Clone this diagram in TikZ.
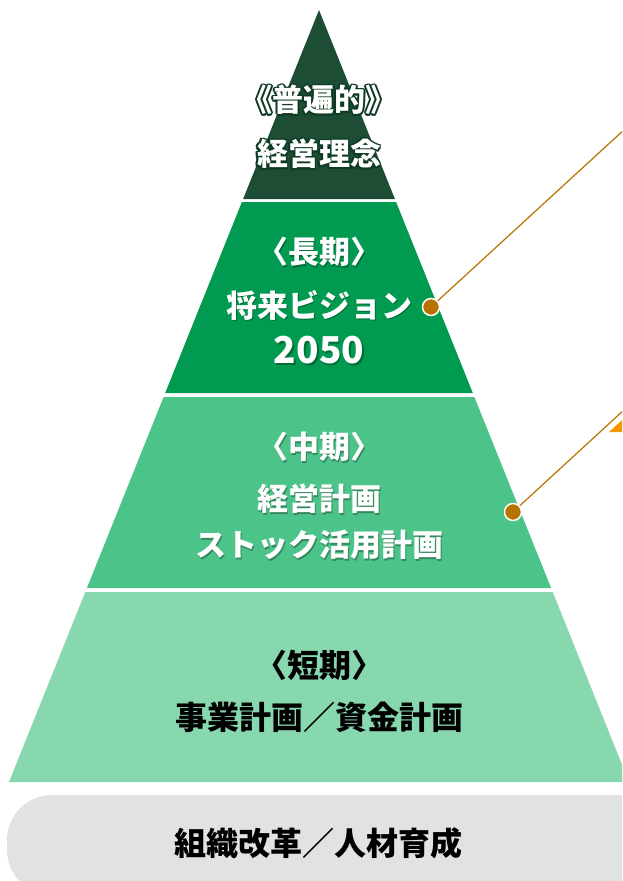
\documentclass[tikz,border=0pt]{standalone}
\usepackage{fontspec}
\setmainfont{Noto Sans CJK JP}
\usetikzlibrary{calc}
\definecolor{lvA}{HTML}{1D4E35}
\definecolor{lvB}{HTML}{009B50}
\definecolor{lvC}{HTML}{4CC489}
\definecolor{lvD}{HTML}{87D8AE}
\definecolor{barG}{HTML}{E1E3E3}
\definecolor{lineC}{HTML}{B87200}
\definecolor{triC}{HTML}{F39800}
\definecolor{glowC}{HTML}{0E3A24}
\tikzset{
  lbl/.style={inner sep=0pt, anchor=center, font=\fontsize{31}{36}\selectfont\bfseries},
  wlbl/.style={lbl, text=white},
  blbl/.style={inner sep=0pt, anchor=center, text=black, font=\fontsize{32}{37}\selectfont\bfseries},
  shd/.style={lbl, text=black, opacity=0.3},
  glw/.style={lbl, text=glowC},
  conn/.style={draw=lineC, line width=1.2pt},
  dotc/.style={circle, fill=lineC, draw=white, line width=1.5pt, minimum size=17pt, inner sep=0pt}
}
\newcommand{\shadtext}[3]{%
  \node[shd] at ($(#2)+(1.6,1.6)$) {#3};
  \node[wlbl] (#1) at (#2) {#3};}
\newcommand{\glowtext}[3]{%
  \foreach \dx/\dy in {1.8/0,-1.8/0,0/1.8,0/-1.8,1.3/1.3,-1.3/1.3,1.3/-1.3,-1.3/-1.3}{%
    \node[glw] at ($(#2)+(\dx,\dy)$) {#3};}
  \node[wlbl] (#1) at (#2) {#3};}
\begin{document}
\begin{tikzpicture}[x=1pt,y=-1pt]
\useasboundingbox (0,0) rectangle (622,881);
\clip (0,0) rectangle (622,881);
% layers
\fill[lvA] (319,10) -- (394.9,199) -- (243.1,199) -- cycle;
\fill[lvB] (241.9,202) -- (396.1,202) -- (472.8,393) -- (165.2,393) -- cycle;
\fill[lvC] (163.6,397) -- (474.4,397) -- (551.1,588) -- (86.9,588) -- cycle;
\fill[lvD] (85.3,592) -- (552.7,592) -- (629,782) -- (9,782) -- cycle;
% base bar
\fill[barG, rounded corners=45pt] (7,795) rectangle (720,895);
% orange shape corner
\fill[triC] (609,432) -- (650,432) -- (650,394.4) -- cycle;
% connectors
\coordinate (e1) at (650,106);
\coordinate (e2) at (650,386);
\node[dotc] (d1) at (431,307) {};
\node[dotc] (d2) at (513,512) {};
\draw[conn] (d1) -- (e1);
\draw[conn] (d2) -- (e2);
% texts
\glowtext{t1a}{319,100}{《普遍的》}
\glowtext{t1b}{319,154}{経営理念}
\shadtext{t2a}{319,252}{〈長期〉}
\shadtext{t2b}{319,305}{将来ビジョン}
\shadtext{t2c}{319,350}{\fontsize{37}{40}\selectfont 2050}
\shadtext{t3a}{319,447}{〈中期〉}
\shadtext{t3b}{319,499}{経営計画}
\shadtext{t3c}{319,545}{ストック活用計画}
\node[blbl] (t4a) at (319,665) {〈短期〉};
\node[blbl] (t4b) at (319,717) {事業計画／資金計画};
\node[blbl] (t5) at (318,843) {組織改革／人材育成};
\end{tikzpicture}
\end{document}
